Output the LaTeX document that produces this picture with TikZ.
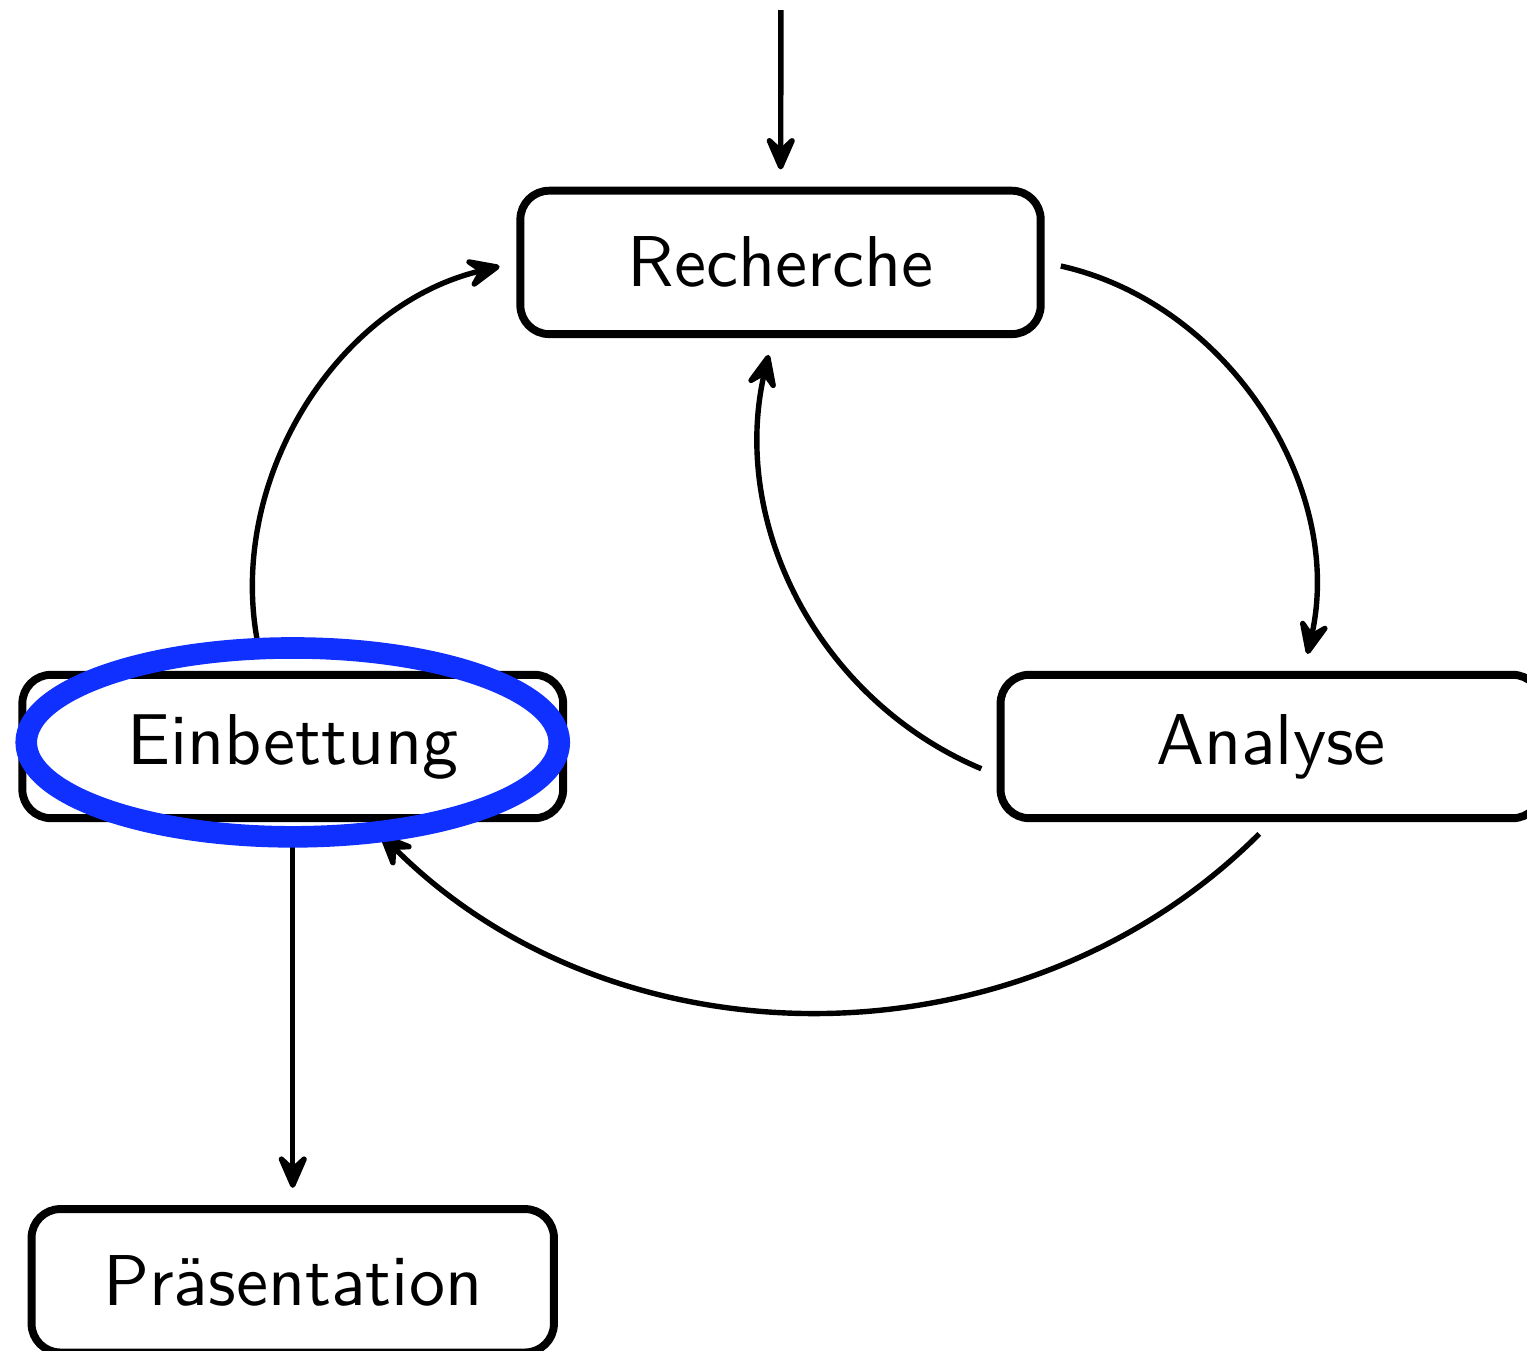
\documentclass[tikz,border=0pt]{standalone}
\usepackage{amsmath,amssymb}
\usepackage{color}
\usepackage{tikz}
\usetikzlibrary{arrows.meta}
\definecolor{markblue}{RGB}{16,48,255}

\begin{document}
\begin{tikzpicture}[font=\sffamily]
\tikzset{box/.style={draw,rounded corners=4pt,line width=1.1pt,minimum width=2.54cm,minimum height=0.70cm}}
\tikzset{flow/.style={-{Stealth[length=6pt,width=5.2pt,inset=2.4pt,round]},line width=0.75pt,shorten <=2.3pt,shorten >=2.4pt}}
\useasboundingbox (0,0) rectangle (7.454,-6.590);
\coordinate (0) at (3.812,-0.049);
\node (1) at (3.810,-1.281) [box] {Recherche};
\node (2) at (6.204,-3.644) [box,minimum width=2.64cm] {Analyse};
\node (3) at (1.429,-3.644) [box,minimum width=2.64cm] {Einbettung};
\node (4) at (1.429,-6.252) [box,minimum width=2.55cm] {Präsentation};


\path
(0) edge [flow,shorten <=0pt] (1)
(1.east) edge [flow,bend left=45] ([xshift=0.16cm]2.north)
(2.south) edge [flow,bend left=45] (3.-45)
([yshift=-0.14cm]2.west) edge [flow,bend left=40] ([xshift=-0.04cm]1.south)
([xshift=-0.14cm]3.north) edge [flow,bend left=45] (1.west)
(3) edge [flow] (4);

\draw [markblue,line width=3pt] ([yshift=0.02cm]3.center) ellipse [x radius=1.301cm,y radius=0.461cm];
\end{tikzpicture}
\end{document}
